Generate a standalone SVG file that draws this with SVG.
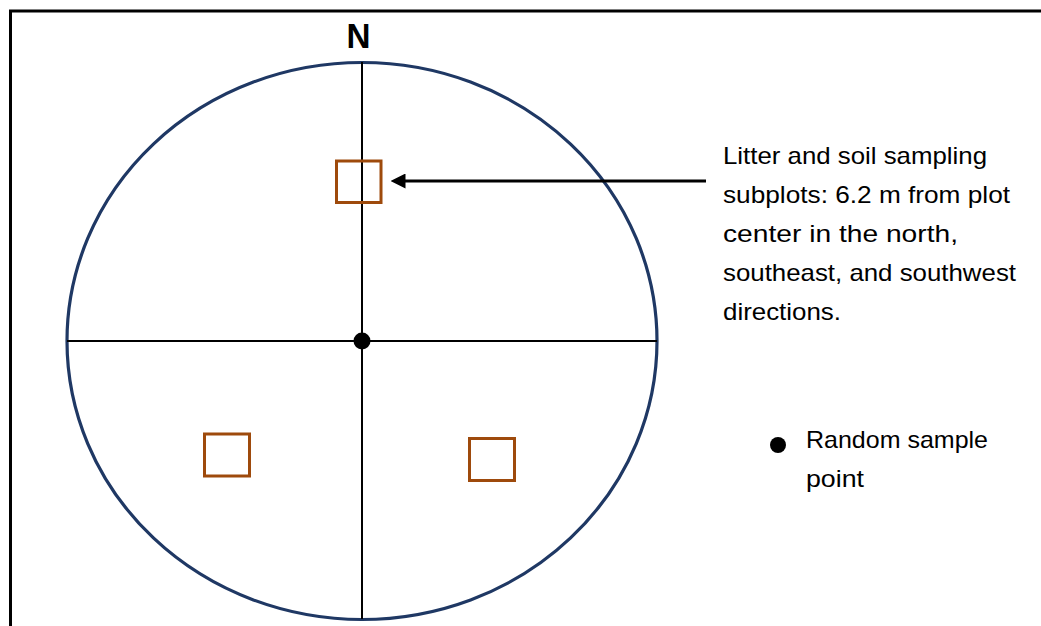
<svg xmlns="http://www.w3.org/2000/svg" width="1041" height="626" viewBox="0 0 1041 626">
  <style>
    .frame { fill: none; stroke: #000; stroke-width: 3; }
    .plot { fill: none; stroke: #1F3864; stroke-width: 3.2; }
    .axis { stroke: #000; stroke-width: 2; }
    .subplot { fill: none; stroke: #9E4A0C; stroke-width: 3; }
    .label { font-family: "Liberation Sans", Arial, sans-serif; font-size: 24px; fill: #000; }
    .north { font-family: "Liberation Sans", Arial, sans-serif; font-size: 35px; font-weight: bold; fill: #000; }
  </style>
  <defs>
    <marker id="arrowhead" viewBox="0 0 10 10" refX="1" refY="5" markerWidth="5" markerHeight="5" markerUnits="strokeWidth" orient="auto-start-reverse">
      <path d="M0,0 L10,5 L0,10 z" fill="#000"/>
    </marker>
  </defs>
  <rect width="1041" height="626" fill="#fff"/>
  <!-- outer frame, open towards right and bottom edges -->
  <path class="frame" d="M1041,11 L10.5,11 L10.5,626"/>

  <g id="plot">
    <ellipse class="plot" cx="362" cy="341" rx="295" ry="278.5"/>
    <line class="axis" x1="362" y1="62" x2="362" y2="619"/>
    <line class="axis" x1="67" y1="341" x2="657" y2="341"/>
    <circle cx="362" cy="341" r="8.5" fill="#000"/>
  </g>

  <g id="north-label">
    <text class="north" x="358.5" y="48" text-anchor="middle" textLength="24" lengthAdjust="spacingAndGlyphs">N</text>
  </g>

  <g id="subplot-north">
    <rect class="subplot" x="336.5" y="161" width="44.5" height="41.5"/>
  </g>
  <g id="subplot-southwest">
    <rect class="subplot" x="204.5" y="434" width="45" height="42"/>
  </g>
  <g id="subplot-southeast">
    <rect class="subplot" x="469.5" y="438.5" width="45" height="42"/>
  </g>

  <g id="connectors">
    <line x1="706" y1="181" x2="404" y2="181" stroke="#000" stroke-width="3" marker-end="url(#arrowhead)"/>
  </g>

  <g id="subplot-note">
    <text class="label" x="723" y="164" textLength="264" lengthAdjust="spacingAndGlyphs">Litter and soil sampling</text>
    <text class="label" x="723" y="203" textLength="287" lengthAdjust="spacingAndGlyphs">subplots: 6.2 m from plot</text>
    <text class="label" x="723" y="242" textLength="235" lengthAdjust="spacingAndGlyphs">center in the north,</text>
    <text class="label" x="723" y="281" textLength="293" lengthAdjust="spacingAndGlyphs">southeast, and southwest</text>
    <text class="label" x="723" y="320" textLength="118" lengthAdjust="spacingAndGlyphs">directions.</text>
  </g>

  <g id="legend">
    <circle cx="778" cy="445" r="8" fill="#000"/>
    <text class="label" x="806" y="448" textLength="182" lengthAdjust="spacingAndGlyphs">Random sample</text>
    <text class="label" x="806" y="487" textLength="58" lengthAdjust="spacingAndGlyphs">point</text>
  </g>
</svg>
